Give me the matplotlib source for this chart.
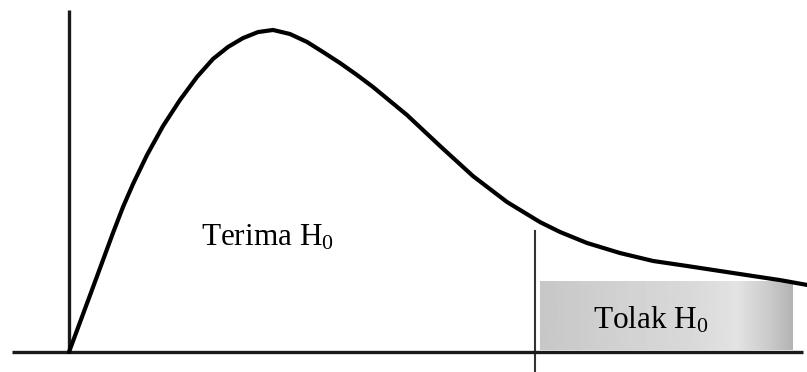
import numpy as np
import matplotlib
matplotlib.use("Agg")
import matplotlib.pyplot as plt

# Data: distribution curve (test statistic vs density)
stat = [0.000, 0.383, 0.567, 0.733, 0.900, 1.067, 1.300, 1.567, 1.850, 2.133,
        2.400, 2.650, 2.900, 3.150, 3.400, 3.683, 3.967, 4.233, 4.517, 4.800,
        5.067, 5.633, 6.183, 6.733, 7.300, 7.850, 8.183, 8.633, 9.183, 9.733,
        10.300, 10.850, 11.400, 11.850, 12.300]
density = [0.0000, 0.0383, 0.0568, 0.0735, 0.0895, 0.1037, 0.1216, 0.1395,
           0.1556, 0.1698, 0.1809, 0.1883, 0.1938, 0.1975, 0.1988, 0.1963,
           0.1914, 0.1852, 0.1784, 0.1710, 0.1636, 0.1463, 0.1272, 0.1086,
           0.0926, 0.0802, 0.0741, 0.0673, 0.0611, 0.0562, 0.0531, 0.0500,
           0.0469, 0.0444, 0.0414]
critical_value = 7.77
labels = ["Terima H$_0$", "Tolak H$_0$"]

plt.rcParams["mathtext.fontset"] = "custom"
plt.rcParams["mathtext.rm"] = "Liberation Serif"
plt.rcParams["mathtext.it"] = "Liberation Serif"

fig = plt.figure(figsize=(8.07, 3.72), dpi=100)
ax = fig.add_axes([0, 0, 1, 1])
ax.set_xlim(-1.15, 12.30)
ax.set_ylim(-0.01235, 0.2173)
ax.axis("off")

# axes lines
ax.plot([-0.95, 12.23], [0, 0], color="#1a1a1a", lw=2.4, solid_capstyle="butt", zorder=3)
ax.plot([0, 0], [0, 0.211], color="#1a1a1a", lw=2.4, solid_capstyle="butt", zorder=3)

# rejection region box with gradient
grad_pos = [0.0, 0.3, 0.6, 0.78, 0.9, 1.0]
grad_val = [0.78, 0.82, 0.85, 0.89, 0.80, 0.70]
xs = np.linspace(0, 1, 256)
row = np.interp(xs, grad_pos, grad_val)
img = np.tile(row, (10, 1))
ax.imshow(img, cmap="gray", vmin=0, vmax=1, aspect="auto",
          extent=[7.85, 12.05, 0.001, 0.043], zorder=1, interpolation="bilinear")

# critical value line
ax.plot([critical_value, critical_value], [-0.0115, 0.075], color="#333333", lw=1.5, zorder=2)

# curve
ax.plot(stat, density, color="black", lw=3.0, solid_joinstyle="round",
        solid_capstyle="round", antialiased=True, zorder=4)

ax.text(2.2, 0.066, labels[0], fontsize=22.5, family="Liberation Serif",
        color="black", va="baseline", ha="left", zorder=5)
ax.text(8.73, 0.0142, labels[1], fontsize=22.5, family="Liberation Serif",
        color="black", va="baseline", ha="left", zorder=5)

fig.savefig("out.png", dpi=100)
